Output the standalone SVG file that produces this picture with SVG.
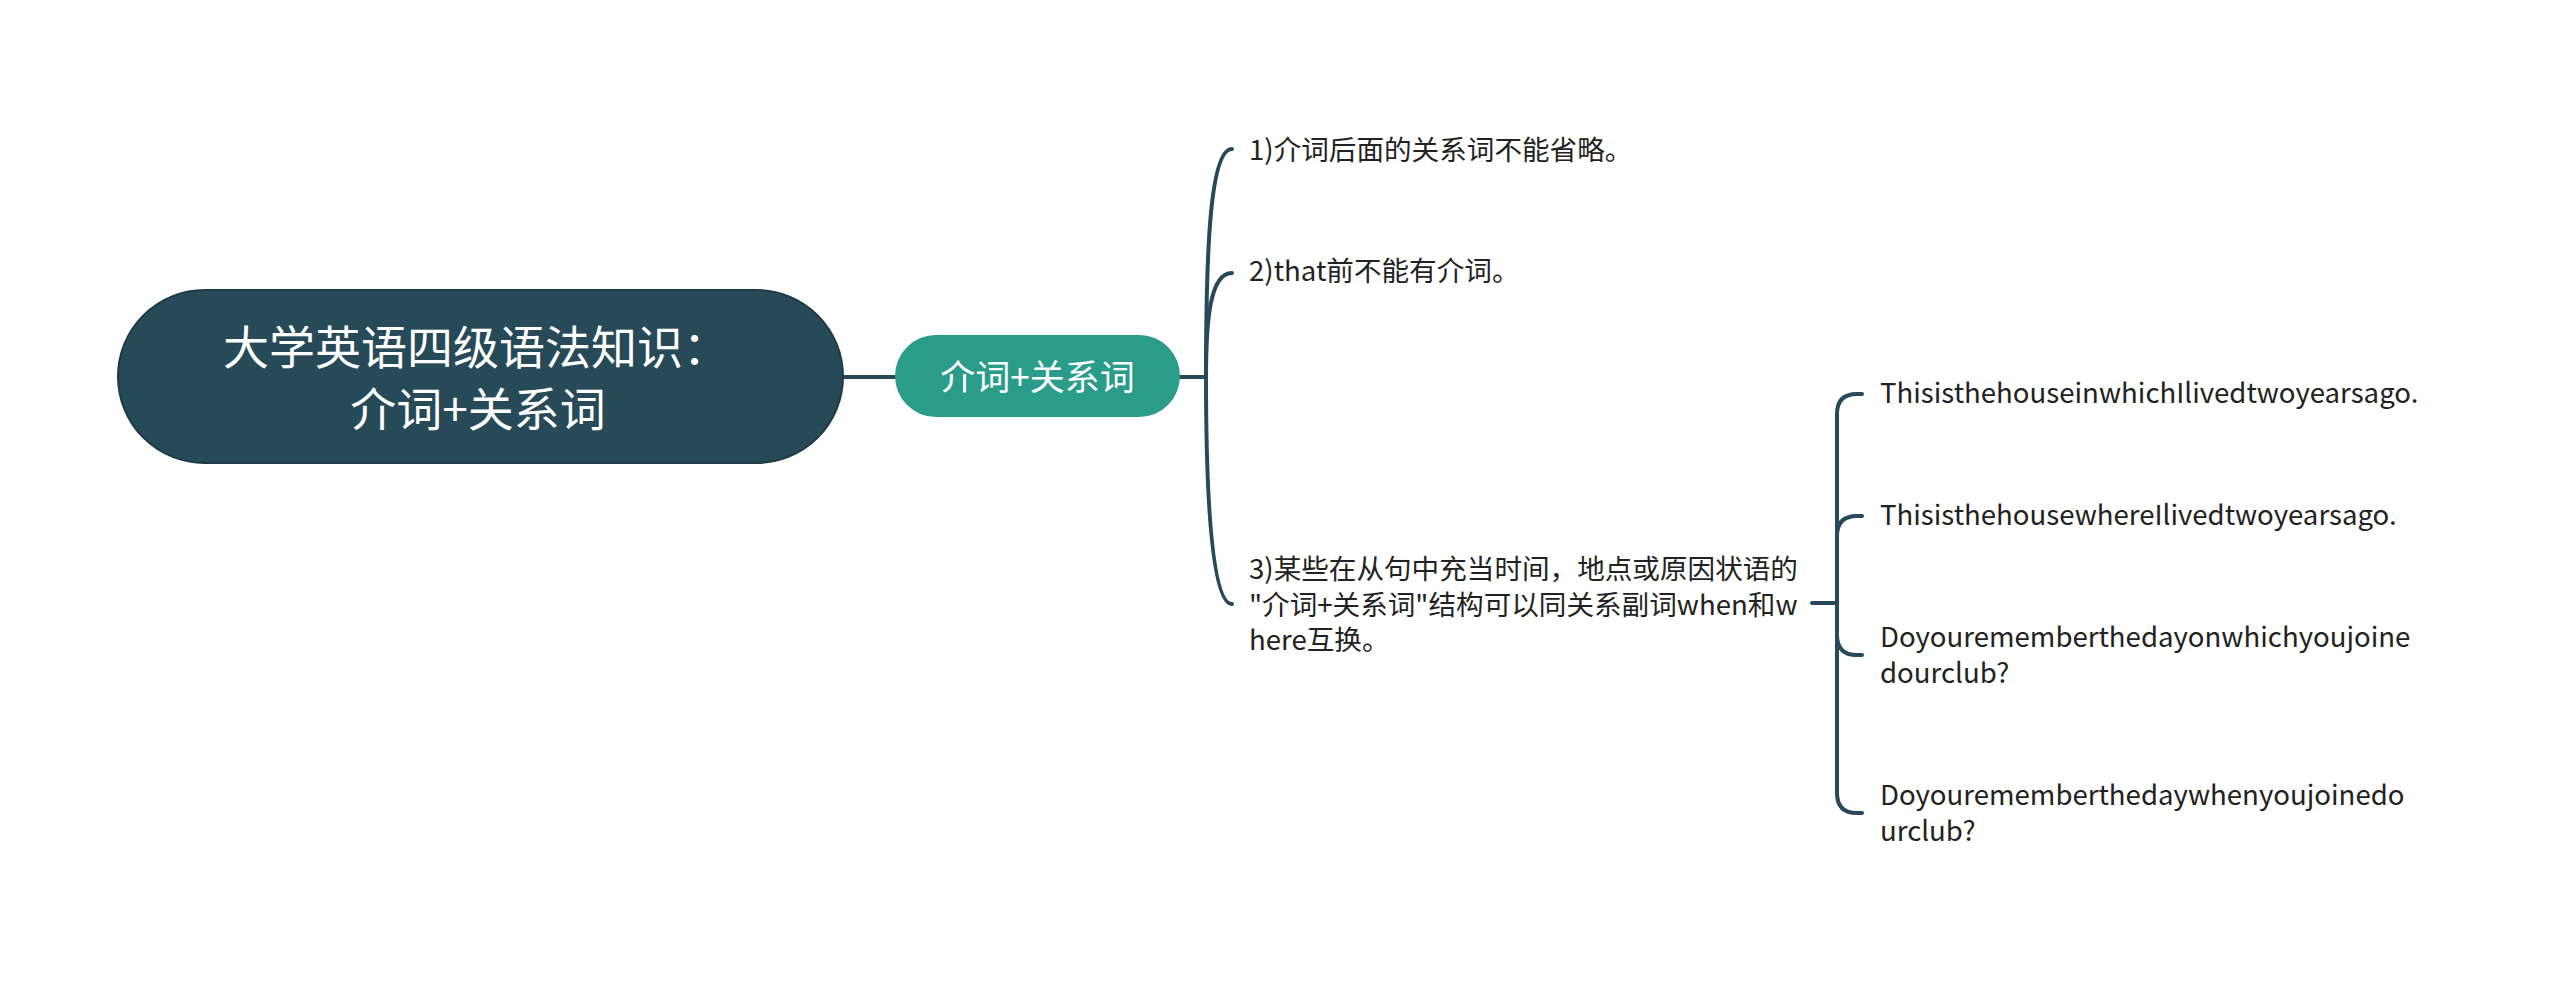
<svg xmlns="http://www.w3.org/2000/svg" width="2560" height="981" viewBox="0 0 2560 981">
<style>
text{font-family:"Noto Sans CJK SC","Noto Sans",sans-serif;}
.root{fill:#274a59;stroke:#1e3a47;stroke-width:2;}
.main{fill:#2a9d8a;}
.wt{fill:#ffffff;}
.lt{fill:#222222;font-size:27.6px;}
.ln{fill:none;stroke:#27495a;stroke-width:4;stroke-linecap:round;}
</style>
<rect width="2560" height="981" fill="#ffffff"/>
<g id="connectors">
<path class="ln" d="M843 377 H895"/>
<path class="ln" d="M1180 377 H1206"/>
<path class="ln" d="M1206 377 C1206 250 1210 149 1232 149"/>
<path class="ln" d="M1206 377 C1206 320 1210 273 1232 273"/>
<path class="ln" d="M1206 377 C1206 480 1210 604 1232 604"/>
<path class="ln" d="M1812 603 H1837"/>
<path class="ln" d="M1837 603 V414 Q1837 394 1857 394 H1862"/>
<path class="ln" d="M1837 603 V536 Q1837 516 1857 516 H1862"/>
<path class="ln" d="M1837 603 V635 Q1837 655 1857 655 H1862"/>
<path class="ln" d="M1837 603 V793 Q1837 813 1857 813 H1862"/>
</g>
<g id="root">
<rect class="root" x="118" y="290" width="725" height="173" rx="86.5"/>
<text class="wt" x="476" y="364" font-size="46" text-anchor="middle">大学英语四级语法知识：</text>
<text class="wt" x="478" y="426" font-size="46" text-anchor="middle">介词+关系词</text>
</g>
<g id="main">
<rect class="main" x="895" y="335" width="285" height="82" rx="41"/>
<text class="wt" x="1037.5" y="390" font-size="35" text-anchor="middle">介词+关系词</text>
</g>
<g id="item1">
<text class="lt" x="1249" y="160">1)介词后面的关系词不能省略。</text>
</g>
<g id="item2">
<text class="lt" x="1249" y="281">2)that前不能有介词。</text>
</g>
<g id="item3">
<text class="lt" x="1249" y="579">3)某些在从句中充当时间，地点或原因状语的</text>
<text class="lt" x="1249" y="615">"介词+关系词"结构可以同关系副词when和w</text>
<text class="lt" x="1249" y="650">here互换。</text>
</g>
<g id="ex1">
<text class="lt" x="1880" y="403">ThisisthehouseinwhichIlivedtwoyearsago.</text>
</g>
<g id="ex2">
<text class="lt" x="1880" y="525">ThisisthehousewhereIlivedtwoyearsago.</text>
</g>
<g id="ex3">
<text class="lt" x="1880" y="647">Doyourememberthedayonwhichyoujoine</text>
<text class="lt" x="1880" y="683">dourclub?</text>
</g>
<g id="ex4">
<text class="lt" x="1880" y="805">Doyourememberthedaywhenyoujoinedo</text>
<text class="lt" x="1880" y="841">urclub?</text>
</g>
</svg>
